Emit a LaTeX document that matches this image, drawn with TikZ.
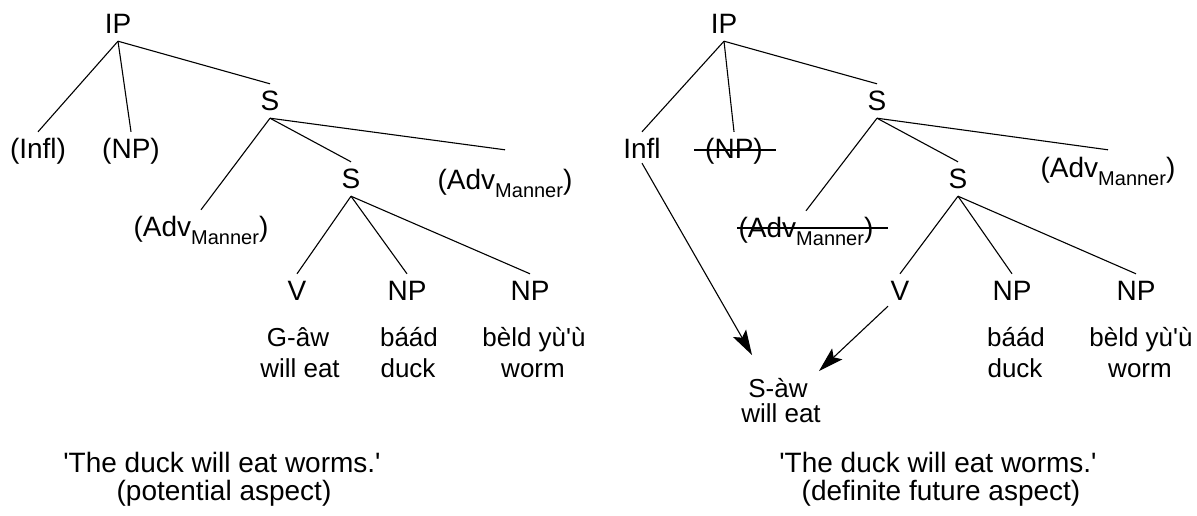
\documentclass[tikz,border=0pt]{standalone}
\usepackage{fontspec}
\setmainfont{Liberation Sans}
\usetikzlibrary{arrows.meta}
\newcommand\mannersub{\raisebox{-8pt}{\fontsize{20}{20}\selectfont Manner}}
\newcommand\advm{(Adv\mannersub)}
\tikzset{
  lab/.style={font=\fontsize{28}{30}\selectfont, inner xsep=0pt, inner ysep=6pt,
              text height=20pt, text depth=2pt, anchor=base},
  gl/.style={font=\fontsize{26}{28}\selectfont, inner sep=0pt, anchor=base},
  captxt/.style={font=\fontsize{28}{30}\selectfont, inner sep=0pt, anchor=base},
  br/.style={line width=1.1pt},
  arr/.style={line width=1.1pt, -{Stealth[length=25pt,width=15pt,inset=5pt]}},
}
\begin{document}
\begin{tikzpicture}[x=1pt,y=-1pt]
\useasboundingbox (0,0) rectangle (1197,515);
% ---------- left tree ----------
\node[lab] (IP1) at (118,33) {IP};
\node[lab] (Infl1) at (38,158) {(Infl)};
\node[lab] (NP1) at (131,158) {(NP)};
\node[lab] (S1) at (270,110) {S};
\node[lab] (AdvL1) at (201,236) {\advm};
\node[lab] (S1b) at (351,188) {S};
\node[lab] (AdvR1) at (505,189) {\advm};
\node[lab] (V1) at (297,300) {V};
\node[lab] (NP1b) at (407,300) {NP};
\node[lab] (NP1c) at (530,300) {NP};
\node[gl] (g1a) at (298,346) {G-âw};
\node[gl] (g1b) at (300,377) {will eat};
\node[gl] (g2a) at (409,346) {báád};
\node[gl] (g2b) at (408,377) {duck};
\node[gl] (g3a) at (534,346) {bèld yù\textquotesingle ù};
\node[gl] (g3b) at (533,377) {worm};
\node[captxt] (c1a) at (222,472) {\textquotesingle The duck will eat worms.\textquotesingle};
\node[captxt] (c1b) at (224,500) {(potential aspect)};
\draw[br] (IP1.south) -- (Infl1.north);
\draw[br] (IP1.south) -- (NP1.north);
\draw[br] (IP1.south) -- (S1.north);
\draw[br] (S1.south) -- (AdvL1.north);
\draw[br] (S1.south) -- (S1b.north);
\draw[br] (S1.south) -- ([yshift=13pt]AdvR1.north);
\draw[br] (S1b.south) -- (V1.north);
\draw[br] (S1b.south) -- (NP1b.north);
\draw[br] (S1b.south) -- (NP1c.north);
% ---------- right tree ----------
\node[lab] (IP2) at (724,33) {IP};
\node[lab] (Infl2) at (642,158) {Infl};
\node[lab] (NP2) at (734,158) {(NP)};
\node[lab] (S2) at (877,110) {S};
\node[lab] (AdvL2) at (806,237) {\advm};
\node[lab] (S2b) at (958,188) {S};
\node[lab] (AdvR2) at (1108,177) {\advm};
\node[lab] (V2) at (900,300) {V};
\node[lab] (NP2b) at (1012,300) {NP};
\node[lab] (NP2c) at (1136,300) {NP};
\node[gl] (h2a) at (1016,346) {báád};
\node[gl] (h2b) at (1015,377) {duck};
\node[gl] (h3a) at (1141,346) {bèld yù\textquotesingle ù};
\node[gl] (h3b) at (1140,377) {worm};
\node[gl] (saw) at (778,397) {S-àw};
\node[gl] (saweng) at (781,422) {will eat};
\node[captxt] (c2a) at (938,472) {\textquotesingle The duck will eat worms.\textquotesingle};
\node[captxt] (c2b) at (941,500) {(definite future aspect)};
\draw[br] (IP2.south) -- (Infl2.north);
\draw[br] (IP2.south) -- (NP2.north);
\draw[br] (IP2.south) -- (S2.north);
\draw[br] (S2.south) -- (AdvL2.north);
\draw[br] (S2.south) -- (S2b.north);
\draw[br] (S2.south) -- ([yshift=1pt]AdvR2.north);
\draw[br] (S2b.south) -- (V2.north);
\draw[br] (S2b.south) -- (NP2b.north);
\draw[br] (S2b.south) -- (NP2c.north);
% strike-throughs
\draw[br] ([xshift=-11pt,yshift=8pt]NP2.base west) -- ([xshift=13pt,yshift=8pt]NP2.base east);
\draw[br] ([xshift=-1pt,yshift=9pt]AdvL2.base west) -- ([xshift=14pt,yshift=9pt]AdvL2.base east);
% movement arrows
\draw[arr] ([yshift=3pt]Infl2.south) -- ([xshift=-26pt,yshift=42pt]saw.base);
\draw[arr] ([xshift=-12pt,yshift=2pt]V2.south) -- ([xshift=41pt,yshift=26pt]saw.base);
\end{tikzpicture}
\end{document}
